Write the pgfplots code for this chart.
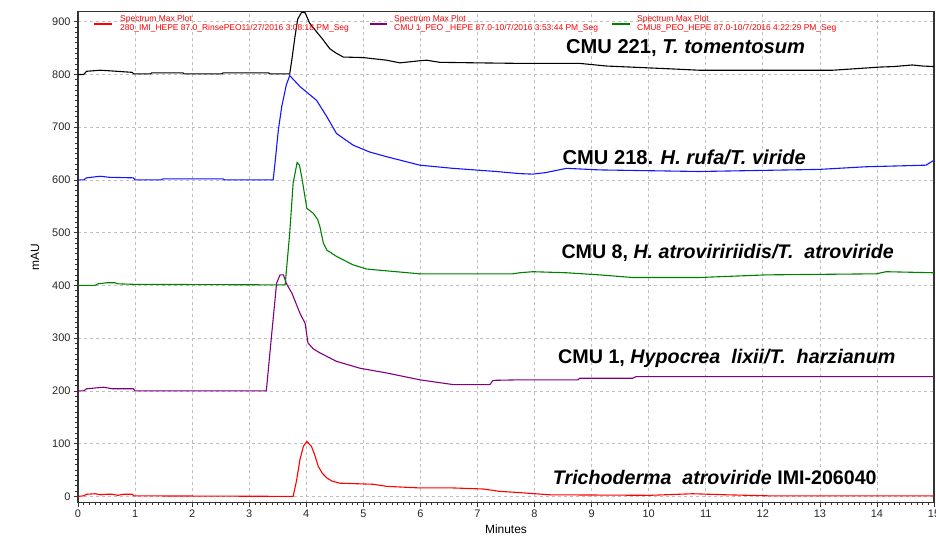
\documentclass[border=0pt]{standalone}
\usepackage{pgfplots}
\pgfplotsset{compat=1.18}
\usepackage{fontspec}
\setmainfont{Liberation Sans}
\definecolor{cblue}{RGB}{20,20,255}
\definecolor{cgreen}{RGB}{0,128,0}
\definecolor{cpurple}{RGB}{128,0,128}
\definecolor{cred}{RGB}{255,0,0}
\definecolor{gridgray}{RGB}{190,190,190}
\tikzset{legtext/.style={anchor=west, align=left, inner sep=0pt, font=\fontsize{8.5}{9}\selectfont, text=cred}}
\begin{document}
\begin{tikzpicture}
\begin{axis}[
  scale only axis, width=856bp, height=491bp,
  xmin=0, xmax=15, ymin=-12, ymax=919,
  xtick={0,1,...,15}, ytick={0,100,...,900},
  minor x tick num=9, minor y tick num=9,
  tick align=outside, tick pos=left,
  major tick length=4bp, minor tick length=2.5bp,
  grid=major,
  major grid style={gridgray, dash pattern=on 3bp off 3bp, line width=0.7bp},
  axis line style={line width=1.2bp, black!80},
  every tick/.style={black!80, line width=0.7bp},
  ticklabel style={font=\fontsize{11}{12}\selectfont, text=black!85},
  /pgf/number format/assume math mode=true,
  xlabel={Minutes}, ylabel={mAU},
  label style={font=\fontsize{12}{14}\selectfont},
  xlabel style={at={(axis description cs:0.5,-0.055)}, anchor=center},
  ylabel style={at={(axis description cs:-0.05,0.5)}, anchor=center},
  every axis plot/.append style={line width=1.1bp},
]
% Trichoderma atroviride IMI-206040 (red)
\addplot[cred] coordinates {
(0,0)(0.1,1)(0.15,4)(0.3,5)(0.4,3)(0.5,4)(0.6,4)(0.7,2)(0.8,4)(0.95,4)(0.98,1)(3.77,0)
(3.83,30)(3.89,70)(3.95,95)(4.01,104)(4.09,95)(4.15,78)(4.21,57)(4.28,44)(4.36,35)(4.45,29)(4.59,25)
(5.17,23)(5.41,19)(5.99,16)(6.57,16)(7.1,14)(7.39,9.5)(7.68,7.6)(8.27,3)(10.02,2)(10.77,5)(11.36,3)(12.12,1)(15,1)
};
% CMU 1 (purple)
\addplot[cpurple] coordinates {
(0,200)(0.1,200)(0.15,204)(0.45,207)(0.6,204)(0.97,204)(1.0,200)(3.30,200)
(3.39,303)(3.48,404)(3.54,420)(3.60,420)(3.65,404)(3.75,385)(3.89,347)(3.98,328)(4.03,291)(4.12,280)(4.24,272)
(4.53,256)(4.94,243)(5.41,234)(5.99,221)(6.57,212)(7.22,212)(7.27,220)(7.74,221)(8.76,221)(8.79,224)(9.72,224)(9.78,227)(15,227)
};
% CMU 8 (green)
\addplot[cgreen] coordinates {
(0,400)(0.3,400)(0.35,403)(0.5,405)(0.65,405)(0.7,403)(1.0,402)(3.63,401)
(3.71,499)(3.77,594)(3.84,633)(3.88,628)(3.92,606)(4.01,546)(4.12,537)(4.2,525)(4.24,511)(4.3,480)(4.36,467)
(4.53,455)(4.82,439)(5.06,431)(5.99,422)(7.62,422)(7.74,424)(7.97,426)(8.56,424)(9.14,420)(9.72,415)
(10.89,415)(12.06,420)(13.99,422)(14.16,426)(15,424)
};
% CMU 218 (blue)
\addplot[cblue] coordinates {
(0,600)(0.1,600)(0.15,604)(0.39,607)(0.55,605)(0.97,604)(1.0,600)(1.45,600)(1.49,602)(2.54,602)(2.57,600)(3.42,600)
(3.46,640)(3.51,694)(3.57,739)(3.65,780)(3.71,798)(3.89,777)(4.18,751)(4.36,720)(4.53,688)
(4.82,666)(5.11,653)(5.41,644)(5.99,628)(6.57,622)(7.33,616)(7.74,612)(7.97,611)(8.2,614)(8.56,622)(9.14,619)
(10.89,616)(12.99,620)(13.81,625)(14.86,628)(14.98,636)(15,636)
};
% CMU 221 (black)
\addplot[black] coordinates {
(0,800)(0.1,800)(0.15,806)(0.39,808)(0.55,807)(0.68,806)(0.95,804)(0.98,801)(1.27,801)(1.29,803)(1.84,803)(1.86,801)
(2.52,801)(2.54,803)(3.34,803)(3.36,801)(3.71,801)(3.75,830)(3.8,870)(3.85,905)(3.92,918)(3.98,917)(4.06,897)
(4.18,881)(4.30,865)(4.41,849)(4.53,840)(4.65,833)(5.0,832)(5.41,827)(5.64,822)(5.99,826)(6.11,827)(6.34,823)
(7.0,822)(7.74,821)(8.79,821)(9.26,816)(10.31,811)(10.89,808)(13.22,808)(13.5,810)(14.05,814)(14.3,815)(14.62,818)(14.8,816)(15,815)
};
% legend
\draw[draw=cred, line width=1.6bp] (rel axis cs:0.0187,0.9745) -- (rel axis cs:0.0397,0.9745);
\node[legtext] at (rel axis cs:0.0491,0.9745) {Spectrum Max Plot\\280\_IMI\_HEPE 87.0\_RinsePEO11/27/2016 3:08:18 PM\_Seg};
\draw[draw=cpurple, line width=1.6bp] (rel axis cs:0.3411,0.9745) -- (rel axis cs:0.3610,0.9745);
\node[legtext] at (rel axis cs:0.3692,0.9745) {Spectrum Max Plot\\CMU 1\_PEO \_HEPE 87.0-10/7/2016 3:53:44 PM\_Seg};
\draw[draw=cgreen, line width=1.6bp] (rel axis cs:0.6238,0.9745) -- (rel axis cs:0.6449,0.9745);
\node[legtext] at (rel axis cs:0.6530,0.9745) {Spectrum Max Plot\\CMU8\_PEO\_HEPE 87.0-10/7/2016 4:22:29 PM\_Seg};
% annotations
\node[anchor=west, inner sep=0pt, font=\fontsize{20.2}{22}\selectfont\bfseries] at (axis cs:8.55,851) {CMU 221, \textit{T. tomentosum}};
\node[anchor=west, inner sep=0pt, font=\fontsize{20.2}{22}\selectfont\bfseries] at (axis cs:8.49,643) {CMU 218. \textit{H. rufa/T. viride}};
\node[anchor=west, inner sep=0pt, font=\fontsize{19.7}{22}\selectfont\bfseries] at (axis cs:8.47,461) {CMU 8, \textit{H. atroviririidis/T.\ \ atroviride}};
\node[anchor=west, inner sep=0pt, font=\fontsize{19.8}{22}\selectfont\bfseries] at (axis cs:8.41,262) {CMU 1, \textit{Hypocrea\ \ lixii/T.\ \ harzianum}};
\node[anchor=west, inner sep=0pt, font=\fontsize{19.7}{22}\selectfont\bfseries] at (axis cs:8.32,35) {\textit{Trichoderma\ \ atroviride} IMI-206040};
\end{axis}
\pgfresetboundingbox
\path ([xshift=-78bp,yshift=-34bp]current axis.south west) rectangle ([xshift=2bp,yshift=11.7bp]current axis.north east);
\end{tikzpicture}
\end{document}
